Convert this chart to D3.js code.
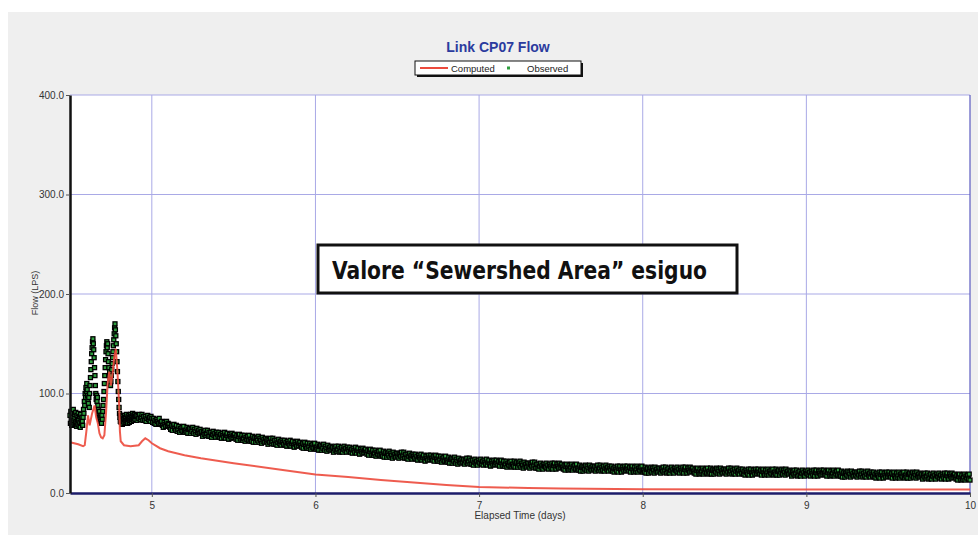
<!DOCTYPE html>
<html><head><meta charset="utf-8">
<script src="https://cdn.jsdelivr.net/npm/d3@7"></script>
<style>body{margin:0;background:#fff} svg{display:block}</style>
</head><body><svg id="c" width="978" height="535"></svg>
<script>
const chartTitle = "Link CP07 Flow";
const yAxisLabel = "Flow (LPS)";
const xAxisLabel = "Elapsed Time (days)";
const legendLabels = ["Computed", "Observed"];
const annotation = "Valore \u201CSewershed Area\u201D esiguo";
const xTicks = [5, 6, 7, 8, 9, 10];
const yTicks = [0, 100, 200, 300, 400];

// Computed flow (time in days, flow in LPS)
const compT = [4.50,4.55,4.58,4.59,4.60,4.61,4.62,4.635,4.65,4.66,4.67,4.68,4.69,4.70,4.71,4.72,4.73,4.74,4.75,4.76,4.77,4.78,4.79,4.80,4.805,4.81,4.83,4.87,4.92,4.94,4.96,4.98,5.00,5.05,5.10,5.20,5.30,5.50,5.80,6.00,6.20,6.40,6.60,6.80,7.00,7.30,7.50,8.00,9.00,10.00];
const compV = [51,49,47,48,62,78,68,80,88,76,70,60,56,55,58,80,110,122,108,120,136,145,122,90,62,52,48,47,48,52,55,53,50,45,42,38,35,30,23,18.5,16,13,10.5,8,6,5,4.5,3.8,3.5,3.5];

// Observed flow, regular samples (storm peaks)
const obsA_t0 = 4.50, obsA_dt = 0.0025;
const obsA = [
78,70,82,74,68,80,76,71,84,73,69,79,75,70,81,72,67,78,74,69,80,73,68,77,71,66,79,74,70,76,72,68,
76,84,80,92,88,100,96,106,102,110,104,98,94,90,96,86,100,108,116,124,132,140,146,152,155,150,144,136,126,118,108,100,
94,98,92,96,88,84,80,76,82,74,78,72,76,70,78,74,82,88,94,102,110,118,126,134,142,148,152,146,150,140,132,126,118,122,114,108,
112,118,124,130,136,142,148,154,160,166,170,164,158,150,142,132,122,112,102,94,86,80,76,72,78,
71,76,73,69,77,72,75,70,78,74,71,76,73,79,72,75,70,77,74,78,71,76,73,79,75,72,77,74,80,76,73,78,75,79,74,77];

// Observed flow, regular samples (recession), one row per 0.1 day
const obsB_t0 = 4.905, obsB_dt = 0.005;
const obsB = [
78,73,77,75,79,74,76,79,73,77,73,77,72,75,78,74,76,72,77,75,
71,75,70,73,69,74,72,70,75,69,70,72,68,66,71,69,67,72,68,70,
69,66,64,68,63,67,69,65,63,68,62,64,67,61,65,63,66,62,67,61,
63,61,66,60,64,65,60,64,62,66,60,64,62,59,65,61,63,60,64,61,
62,57,61,59,63,58,60,63,57,61,57,61,56,59,62,58,60,56,61,59,
57,61,56,59,55,60,58,56,61,55,58,60,56,54,59,57,55,60,56,58,
59,56,54,58,53,57,59,55,53,58,53,55,58,52,56,54,57,53,58,52,
54,52,57,51,55,56,51,55,53,57,51,55,53,50,56,52,54,51,55,52,
54,49,53,51,55,50,52,55,49,53,49,53,48,51,54,50,52,48,53,51,
49,53,48,51,47,52,50,48,53,47,50,52,48,46,51,49,47,52,48,50,
51,48,46,50,45,49,51,47,45,50,45,47,50,44,48,46,49,45,50,44,
46,44,49,43,47,48,43,47,45,49,43,47,45,42,48,44,46,43,47,44,
46,41,45,43,47,42,44,47,41,45,42,46,41,44,47,43,45,41,46,44,
42,46,41,44,40,45,43,41,46,40,43,45,41,39,44,42,40,45,41,43,
44,41,39,43,38,42,44,40,38,43,38,40,43,37,41,39,42,38,43,37,
39,37,42,36,40,41,36,40,38,42,36,40,38,35,41,37,39,36,40,37,
40,35,39,37,41,36,38,41,35,39,35,39,34,37,40,36,38,34,39,37,
35,39,34,37,33,38,36,34,39,33,36,38,34,32,37,35,33,38,34,36,
38,35,33,37,32,36,38,34,32,37,32,34,37,31,35,33,36,32,37,31,
33,31,36,30,34,35,30,34,32,36,30,34,32,29,35,31,33,30,34,31,
34,29,33,31,35,30,32,35,29,33,29,33,28,31,34,30,32,28,33,31,
30,34,29,32,28,33,31,29,34,28,31,33,29,27,32,30,28,33,29,31,
33,30,28,32,27,31,33,29,27,32,27,29,32,26,30,28,31,27,32,26,
29,27,32,26,30,31,26,30,28,32,26,30,28,25,31,27,29,26,30,27,
30,25,29,27,31,26,28,31,25,29,25,29,24,27,30,26,28,24,29,27,
26,30,25,28,24,29,27,25,30,24,28,30,26,24,29,27,25,30,26,28,
29,26,24,28,23,27,29,25,23,28,24,26,29,23,27,25,28,24,29,23,
25,23,28,22,26,27,22,26,24,28,23,27,25,22,28,24,26,23,27,24,
27,22,26,24,28,23,25,28,22,26,23,27,22,25,28,24,26,22,27,25,
23,27,22,25,21,26,24,22,27,21,25,27,23,21,26,24,22,27,23,25,
27,24,22,26,21,25,27,23,21,26,22,24,27,21,25,23,26,22,27,21,
23,21,26,20,24,25,20,24,22,26,21,25,23,20,26,22,24,21,25,22,
25,20,24,22,26,21,23,26,20,24,21,25,20,23,26,22,24,20,25,23,
22,26,21,24,20,25,23,21,26,20,24,26,22,20,25,23,21,26,22,24,
25,22,20,24,19,23,25,21,19,24,20,22,25,19,23,21,24,20,25,19,
22,20,25,19,23,24,19,23,21,25,20,24,22,19,25,21,23,20,24,21,
24,19,23,21,25,20,22,25,19,23,20,24,19,22,25,21,23,19,24,22,
20,24,19,22,18,23,21,19,24,18,22,24,20,18,23,21,19,24,20,22,
24,21,19,23,18,22,24,20,18,23,19,21,24,18,22,20,23,19,24,18,
21,19,24,18,22,23,18,22,20,24,19,23,21,18,24,20,22,19,23,20,
22,17,21,19,23,18,20,23,17,21,18,22,17,20,23,19,21,17,22,20,
19,23,18,21,17,22,20,18,23,17,21,23,19,17,22,20,18,23,19,21,
23,20,18,22,17,21,23,19,17,22,18,20,23,17,21,19,22,18,23,17,
19,17,22,16,20,21,16,20,18,22,17,21,19,16,22,18,20,17,21,18,
21,16,20,18,22,17,19,22,16,20,17,21,16,19,22,18,20,16,21,19,
17,21,16,19,15,20,18,16,21,15,19,21,17,15,20,18,16,21,17,19,
21,18,16,20,15,19,21,17,15,20,16,18,21,15,19,17,20,16,21,15,
18,16,21,15,19,20,15,19,17,21,16,20,18,15,21,17,19,16,20,17,
19,14,18,16,20,15,17,20,14,18,15,19,14,17,20,16,18,14,19,17,
16,20,15,18,14,19,17,15,20,14,18,20,16,14,19,17,15,20,16,18,
19,16,14,18,13,17,19,15,13,18,14,16,19,13,17,15,18,14,19,13];

const observed = obsA.map((v, i) => ({t: obsA_t0 + i * obsA_dt, v}))
  .concat(obsB.map((v, i) => ({t: obsB_t0 + i * obsB_dt, v})));
const computed = compT.map((t, i) => ({t, v: compV[i]}));

const svg = d3.select("#c");
const L = 70, R = 970, T = 95, B = 493;
const x = d3.scaleLinear().domain([4.5, 10]).range([L, R]);
const y = d3.scaleLinear().domain([0, 400]).range([B, T]);
const font = "'Liberation Sans', Arial, sans-serif";

svg.append("rect").attr("width", 978).attr("height", 535).attr("fill", "#fff");
svg.append("rect").attr("x", 8).attr("y", 12).attr("width", 970).attr("height", 523).attr("fill", "#efefef");
svg.append("rect").attr("x", L).attr("y", T).attr("width", R - L).attr("height", B - T).attr("fill", "#fff");

// grid
const gridColor = "#a9a9e6";
svg.append("g").selectAll("line").data(xTicks.filter(d => d < 10)).join("line")
  .attr("x1", d => x(d)).attr("x2", d => x(d)).attr("y1", T).attr("y2", B)
  .attr("stroke", gridColor).attr("stroke-width", 1);
svg.append("g").selectAll("line").data(yTicks.filter(d => d > 0)).join("line")
  .attr("x1", L).attr("x2", R).attr("y1", d => y(d)).attr("y2", d => y(d))
  .attr("stroke", gridColor).attr("stroke-width", 1);
svg.append("line").attr("x1", R).attr("x2", R).attr("y1", T).attr("y2", B)
  .attr("stroke", "#5a5ac0").attr("stroke-width", 1.2);

// annotation box
svg.append("rect").attr("x", 318).attr("y", 245).attr("width", 419).attr("height", 48)
  .attr("fill", "#fff").attr("stroke", "#111").attr("stroke-width", 3);
svg.append("text").attr("x", 332).attr("y", 279)
  .attr("font-family", "'Liberation Sans Narrow', 'DejaVu Sans Condensed', Arial, sans-serif")
  .attr("font-weight", "bold").attr("font-size", 25).attr("fill", "#111")
  .attr("textLength", 375).attr("lengthAdjust", "spacingAndGlyphs")
  .text(annotation);

const compPath = d3.line().x(d => x(d.t)).y(d => y(d.v));

// observed markers
svg.append("g").selectAll("rect").data(observed).join("rect")
  .attr("x", d => x(d.t) - 2).attr("y", d => y(d.v) - 2)
  .attr("width", 4).attr("height", 4)
  .attr("fill", "#2e9e3e").attr("stroke", "#000").attr("stroke-width", 1.3);

// computed line
svg.append("path").datum(computed)
  .attr("d", compPath)
  .attr("fill", "none").attr("stroke", "#ec4a3c").attr("stroke-width", 2).attr("stroke-opacity", 0.9);

// axes
const xAxis = d3.axisBottom(x).tickValues(xTicks).tickFormat(d3.format("d")).tickSize(4).tickSizeOuter(0);
const gx = svg.append("g").attr("transform", `translate(0,${B})`).call(xAxis);
gx.select(".domain").attr("stroke", "#1c1c6a").attr("stroke-width", 2.5);
gx.selectAll(".tick line").attr("stroke", "#555");
gx.selectAll(".tick text").attr("font-family", font).attr("font-size", 10).attr("fill", "#333").attr("dy", "0.9em");

const yAxis = d3.axisLeft(y).tickValues(yTicks).tickFormat(d3.format(".1f")).tickSize(4).tickSizeOuter(0);
const gy = svg.append("g").attr("transform", `translate(${L},0)`).call(yAxis);
gy.select(".domain").attr("stroke", "#111").attr("stroke-width", 2.5);
gy.selectAll(".tick line").attr("stroke", "#555");
gy.selectAll(".tick text").attr("font-family", font).attr("font-size", 10).attr("fill", "#333").attr("x", -6);

svg.append("text").attr("x", (L + R) / 2).attr("y", 519).attr("text-anchor", "middle")
  .attr("font-family", font).attr("font-size", 10).attr("fill", "#333").text(xAxisLabel);
svg.append("text").attr("transform", "translate(38,293) rotate(-90)").attr("text-anchor", "middle")
  .attr("font-family", font).attr("font-size", 9).attr("fill", "#333").text(yAxisLabel);

// title
svg.append("text").attr("x", 498).attr("y", 52).attr("text-anchor", "middle")
  .attr("font-family", font).attr("font-weight", "bold").attr("font-size", 14)
  .attr("fill", "#2b3b9e").text(chartTitle);

// legend
const lg = svg.append("g");
lg.append("rect").attr("x", 417).attr("y", 63).attr("width", 166).attr("height", 14).attr("fill", "#111");
lg.append("rect").attr("x", 415).attr("y", 61).attr("width", 166).attr("height", 14)
  .attr("fill", "#fff").attr("stroke", "#111").attr("stroke-width", 1);
lg.append("line").attr("x1", 420).attr("x2", 448).attr("y1", 68).attr("y2", 68)
  .attr("stroke", "#ec4a3c").attr("stroke-width", 2);
lg.append("text").attr("x", 451).attr("y", 71.5).attr("font-family", font).attr("font-size", 9.5)
  .attr("fill", "#222").text(legendLabels[0]);
lg.append("rect").attr("x", 507).attr("y", 66.5).attr("width", 3).attr("height", 3).attr("fill", "#2e9e3e");
lg.append("text").attr("x", 527).attr("y", 71.5).attr("font-family", font).attr("font-size", 9.5)
  .attr("fill", "#222").text(legendLabels[1]);
</script>
</body></html>
